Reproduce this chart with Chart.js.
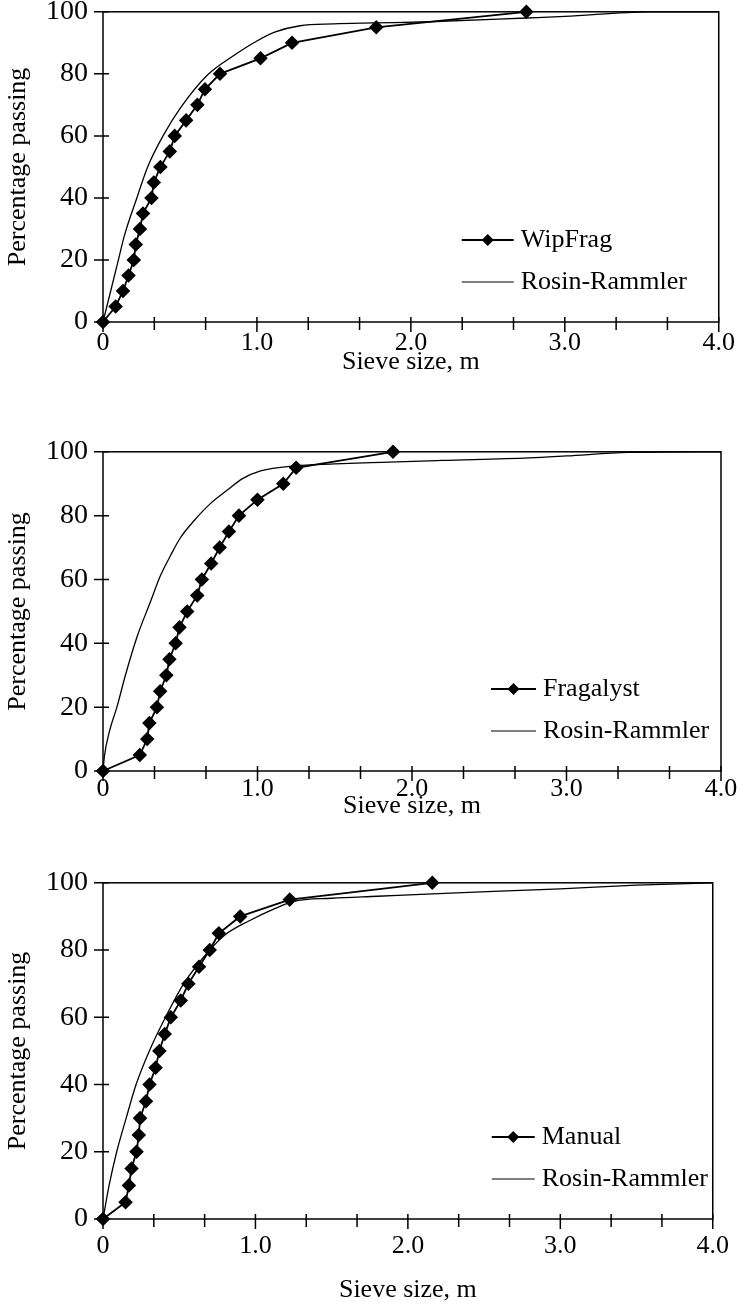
<!DOCTYPE html>
<html>
<head>
<meta charset="utf-8">
<script src="https://cdn.jsdelivr.net/npm/chart.js@4.4.1/dist/chart.umd.min.js"></script>
<style>
    body { margin: 0; background: #fff; width: 741px; height: 1309px; overflow: hidden; position: relative; }
    canvas { position: absolute; left: 0; }
</style>
</head>
<body>
<canvas id="chart-1" width="741" height="400" style="top:-20px"></canvas>
<canvas id="chart-2" width="741" height="402" style="top:420px"></canvas>
<canvas id="chart-3" width="741" height="458" style="top:851px"></canvas>
<script>
// percentage passing for the measured curves (same steps in all three)
var passing_y = [0, 5, 10, 15, 20, 25, 30, 35, 40, 45, 50, 55, 60, 65, 70, 75, 80, 85, 90, 95, 100];

var wipfrag_x = [0, 0.082, 0.13, 0.166, 0.20, 0.213, 0.24, 0.26, 0.315, 0.33, 0.373, 0.434, 0.466, 0.54, 0.613, 0.662, 0.76, 1.023, 1.228, 1.775, 2.75];
var fragalyst_x = [0, 0.238, 0.286, 0.30, 0.349, 0.37, 0.41, 0.43, 0.47, 0.495, 0.545, 0.61, 0.64, 0.70, 0.755, 0.815, 0.88, 1.0, 1.167, 1.25, 1.877];
var manual_x = [0, 0.148, 0.17, 0.187, 0.22, 0.235, 0.243, 0.282, 0.305, 0.345, 0.37, 0.405, 0.445, 0.51, 0.56, 0.63, 0.70, 0.76, 0.90, 1.225, 2.16];

// Rosin-Rammler fits
var rr1_x = [0, 0.05, 0.09, 0.14, 0.22, 0.29, 0.39, 0.51, 0.68, 0.84, 1.0, 1.12, 1.28, 1.5, 1.75, 2.12, 2.75, 3.0, 3.55, 4.0];
var rr1_y = [0, 10, 18, 28, 40, 50, 60, 69.5, 79.7, 85.6, 90.6, 93.5, 95.5, 96.1, 96.4, 96.8, 98, 98.5, 100, 100];
var rr2_x = [0, 0.01, 0.045, 0.09, 0.145, 0.22, 0.307, 0.37, 0.437, 0.5, 0.589, 0.70, 0.805, 0.90, 1.02, 1.24, 1.5, 1.8, 2.2, 2.76, 3.0, 3.4, 4.0];
var rr2_y = [0, 5, 13, 20, 30, 42, 53, 61, 67.5, 73, 78.4, 84, 88, 91.5, 94, 95.6, 96.2, 96.7, 97.3, 98.1, 98.7, 99.8, 100];
var rr3_x = [0, 0.04, 0.09, 0.152, 0.217, 0.304, 0.41, 0.53, 0.70, 0.80, 0.95, 1.13, 1.25, 1.5, 1.8, 2.2, 3.0, 3.5, 4.0];
var rr3_y = [0, 10, 20, 30, 40, 50, 60, 70, 80, 84.5, 88.5, 92.4, 94.5, 95.4, 96, 96.8, 98.2, 99.3, 100];

var x_labels = ['0', '1.0', '2.0', '3.0', '4.0'];
var x_tick_values = [];
for (let i = 0; i <= 12; i++) {
    x_tick_values.push(i / 3);
}

const FONT = '"Liberation Serif", "Times New Roman", serif';

function pairs(xs, ys) {
    return xs.map((x, i) => ({ x: x, y: ys[i] }));
}

// box, crossing tick marks and the legend inside the plot
const framePlugin = {
    id: 'frame',
    afterDraw(chart, args, opts) {
        const ctx = chart.ctx;
        const a = chart.chartArea;
        const xs = chart.scales.x;
        const ys = chart.scales.y;
        ctx.save();
        ctx.strokeStyle = '#000';
        ctx.lineWidth = 1.5;
        ctx.strokeRect(a.left, a.top, a.right - a.left, a.bottom - a.top);
        ctx.beginPath();
        xs.ticks.forEach((t, i) => {
            const px = xs.getPixelForValue(t.value);
            ctx.moveTo(px, a.bottom - 5);
            ctx.lineTo(px, a.bottom + (i % 3 === 0 ? 10 : 8));
        });
        ys.ticks.forEach(t => {
            const py = ys.getPixelForValue(t.value);
            ctx.moveTo(a.left - 9, py);
            ctx.lineTo(a.left + 6, py);
        });
        ctx.stroke();

        // legend
        const lx = a.right - opts.dx;
        const y1 = a.bottom - 82;
        const y2 = a.bottom - 40;
        const w = opts.w;
        ctx.lineWidth = 1.8;
        ctx.beginPath();
        ctx.moveTo(lx, y1);
        ctx.lineTo(lx + w, y1);
        ctx.stroke();
        ctx.fillStyle = '#000';
        ctx.beginPath();
        ctx.moveTo(lx + w / 2, y1 - 6);
        ctx.lineTo(lx + w / 2 + 6, y1);
        ctx.lineTo(lx + w / 2, y1 + 6);
        ctx.lineTo(lx + w / 2 - 6, y1);
        ctx.closePath();
        ctx.fill();
        ctx.lineWidth = 1.2;
        ctx.beginPath();
        ctx.moveTo(lx, y2);
        ctx.lineTo(lx + w, y2);
        ctx.stroke();
        ctx.font = '26px ' + FONT;
        ctx.textBaseline = 'middle';
        ctx.textAlign = 'left';
        ctx.fillText(opts.label, lx + w + 7, y1);
        ctx.fillText('Rosin-Rammler', lx + w + 7, y2);
        ctx.restore();
    }
};

function makeChart(id, label, data_x, rr_x, rr_y, setup) {
    const ctx = document.getElementById(id).getContext('2d');
    return new Chart(ctx, {
        type: 'scatter',
        data: {
            datasets: [{
                    label: label,
                    data: pairs(data_x, passing_y),
                    showLine: true,
                    borderColor: '#000',
                    backgroundColor: '#000',
                    borderWidth: 1.8,
                    pointStyle: 'rectRot',
                    pointRadius: 6,
                    pointHoverRadius: 6,
                    clip: false,
                },
                {
                    label: 'Rosin-Rammler',
                    data: pairs(rr_x, rr_y),
                    showLine: true,
                    borderColor: '#000',
                    borderWidth: 1.3,
                    pointRadius: 0,
                    cubicInterpolationMode: 'monotone',
                    clip: false,
                },
            ],
        },
        options: {
            responsive: false,
            animation: false,
            layout: {
                padding: { top: 31, right: 20, left: 0, bottom: 0 }
            },
            scales: {
                x: {
                    type: 'linear',
                    min: 0,
                    max: 4,
                    grid: { display: false, drawTicks: false },
                    border: { display: false },
                    afterBuildTicks: function(scale) {
                        scale.ticks = x_tick_values.map(v => ({ value: v }));
                    },
                    afterFit: function(scale) {
                        scale.height = setup.xh;
                    },
                    ticks: {
                        autoSkip: false,
                        maxRotation: 0,
                        padding: setup.tickPad,
                        color: '#000',
                        font: { family: FONT, size: 26 },
                        callback: function(value, index) {
                            return index % 3 === 0 ? x_labels[index / 3] : '';
                        }
                    },
                    title: {
                        display: true,
                        text: 'Sieve size, m',
                        color: '#000',
                        font: { family: FONT, size: 26 },
                        padding: { top: 0, bottom: setup.titlePad }
                    }
                },
                y: {
                    min: 0,
                    max: 100,
                    grid: { display: false, drawTicks: false },
                    border: { display: false },
                    afterFit: function(scale) {
                        scale.width = 103;
                    },
                    ticks: {
                        stepSize: 10,
                        padding: 15,
                        color: '#000',
                        font: { family: FONT, size: 28 },
                        callback: function(value) {
                            return value % 20 === 0 ? value : '';
                        }
                    },
                    title: {
                        display: true,
                        text: 'Percentage passing',
                        color: '#000',
                        font: { family: FONT, size: 26 },
                        padding: { top: 3, bottom: 0 }
                    }
                }
            },
            plugins: {
                legend: { display: false },
                tooltip: { enabled: false },
                frame: { label: label, dx: setup.legendDx, w: setup.legendW }
            }
        },
        plugins: [framePlugin]
    });
}

makeChart('chart-1', 'WipFrag', wipfrag_x, rr1_x, rr1_y, { xh: 58, tickPad: 6, titlePad: 2, legendDx: 257, legendW: 52 });
makeChart('chart-2', 'Fragalyst', fragalyst_x, rr2_x, rr2_y, { xh: 51, tickPad: 3, titlePad: 0, legendDx: 230, legendW: 45 });
makeChart('chart-3', 'Manual', manual_x, rr3_x, rr3_y, { xh: 90, tickPad: 12, titlePad: 3, legendDx: 221, legendW: 43 });
</script>
</body>
</html>
